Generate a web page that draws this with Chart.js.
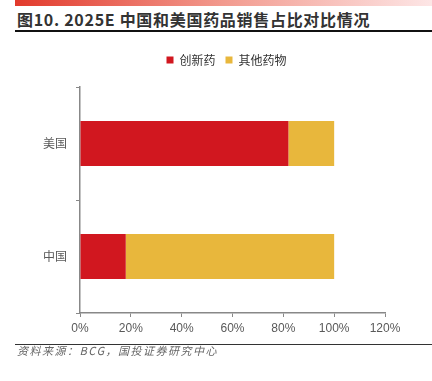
<!DOCTYPE html>
<html>
<head>
<meta charset="utf-8">
<script src="https://cdn.jsdelivr.net/npm/chart.js@4/dist/chart.umd.min.js"></script>
<style>
  html, body { margin: 0; padding: 0; background: #fff; }
  body { width: 432px; height: 381px; position: relative; overflow: hidden; font-family: "Noto Sans CJK SC", "Noto Sans", sans-serif; }
  #banner { position: absolute; left: 15px; top: 0; width: 417px; height: 6px; background: linear-gradient(to right, #e23a2c, #f29a8e 50%, #fde6e6); }
  #title { position: absolute; left: 17px; top: 8px; font-size: 16px; font-weight: bold; color: #333; white-space: nowrap; line-height: 22px; letter-spacing: 0.7px; }
  #titleLine { position: absolute; left: 15px; top: 30px; width: 417px; height: 1.5px; background: #111; }
  #wrap { position: absolute; left: 0; top: 30px; width: 432px; height: 315px; }
  #srcLine { position: absolute; left: 15px; top: 344px; width: 417px; height: 1px; background: #333; }
  #source { position: absolute; left: 17px; top: 343px; font-size: 11px; font-style: italic; color: #666; white-space: nowrap; line-height: 14px; letter-spacing: 1.5px; }
</style>
</head>
<body>
<div id="banner"></div>
<div id="title">图10. 2025E 中国和美国药品销售占比对比情况</div>
<div id="titleLine"></div>
<div id="wrap"><canvas id="chart"></canvas></div>
<div id="srcLine"></div>
<div id="source">资料来源：BCG，国投证券研究中心</div>
<script>
const categories = ['美国', '中国']
const innovative = [82, 18]
const others = [18, 82]
const seriesNames = ['创新药', '其他药物']

// legend: centred on the page and with more room below it
const legendTweak = {
  id: 'legendTweak',
  beforeLayout(chart) {
    const lg = chart.legend
    if (lg && !lg._patched) {
      const fit = lg.fit
      lg.fit = function () { fit.call(this); this.height += 11 }
      lg._patched = true
    }
  },
  afterLayout(chart) {
    chart.legend.left += 34
    chart.legend.right += 34
  }
}

const ctx = document.getElementById('chart').getContext('2d')
new Chart(ctx, {
  type: 'bar',
  data: {
    labels: categories,
    datasets: [
      { label: seriesNames[0], data: innovative, backgroundColor: '#d1171f', borderWidth: 0 },
      { label: seriesNames[1], data: others, backgroundColor: '#e8b73c', borderWidth: 0 }
    ]
  },
  options: {
    indexAxis: 'y',
    responsive: true,
    maintainAspectRatio: false,
    animation: false,
    layout: { padding: { top: 14, right: 47, left: 0, bottom: 0 } },
    datasets: { bar: { categoryPercentage: 0.8, barPercentage: 0.5 } },
    plugins: {
      legend: {
        position: 'top',
        labels: {
          boxWidth: 7, boxHeight: 7, padding: 10,
          color: '#333',
          font: { family: '"Noto Sans CJK SC"', size: 12 }
        }
      },
      tooltip: { enabled: false }
    },
    scales: {
      x: {
        stacked: true,
        min: 0, max: 120,
        ticks: {
          stepSize: 20,
          color: '#595959',
          padding: 4,
          font: { family: '"Liberation Sans", Arial', size: 12 },
          callback: v => v + '%'
        },
        grid: { drawOnChartArea: false, drawTicks: true, tickLength: 4, color: '#888' },
        border: { color: '#888', width: 1.5 },
        afterFit: s => { s.height = 32 }
      },
      y: {
        stacked: true,
        ticks: {
          color: '#595959',
          padding: 9,
          font: { family: '"Noto Sans CJK SC"', size: 12 }
        },
        grid: { drawOnChartArea: false, drawTicks: true, tickLength: 4, color: '#888', offset: true },
        border: { color: '#888', width: 1.5 },
        afterFit: s => { s.width = 80 }
      }
    }
  },
  plugins: [legendTweak]
})
</script>
</body>
</html>
